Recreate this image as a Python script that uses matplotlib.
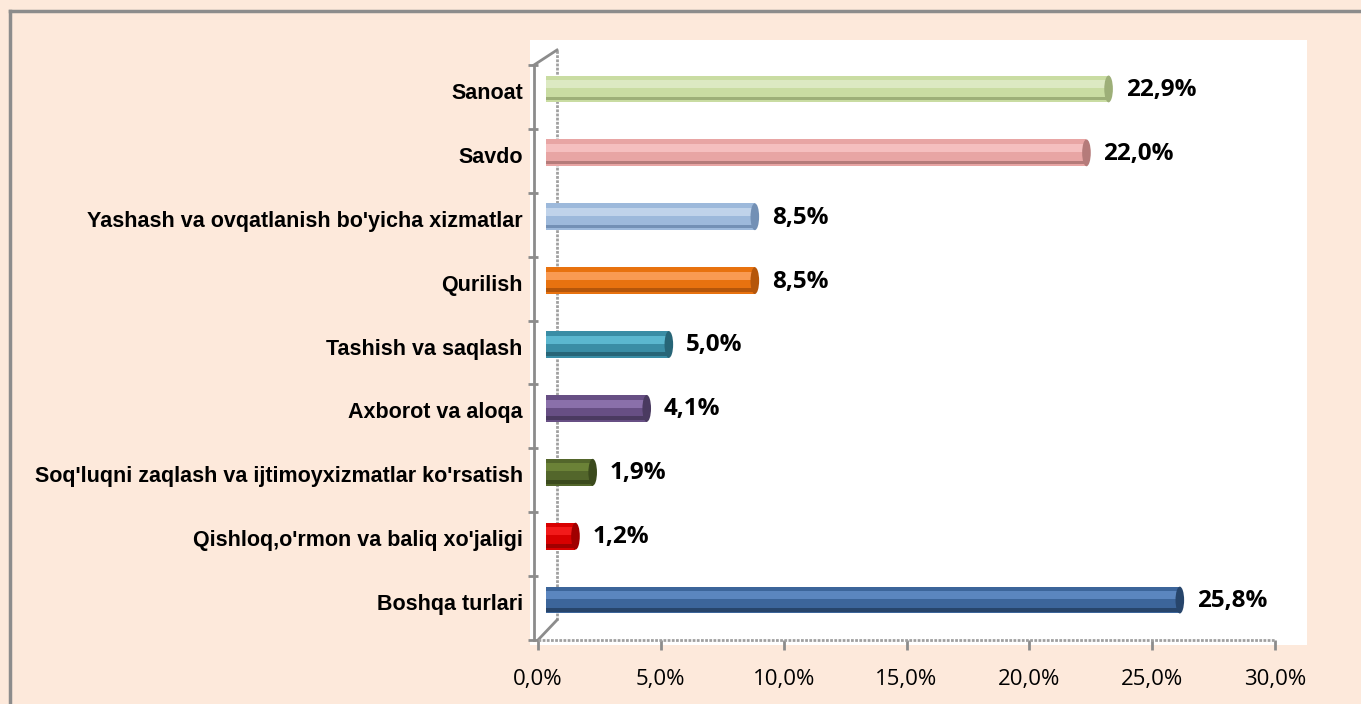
import matplotlib
matplotlib.use('Agg')
import matplotlib.pyplot as plt
import matplotlib.transforms as mtransforms
from matplotlib.patches import Rectangle, Ellipse
from matplotlib.lines import Line2D

# data, top to bottom as in the chart
categories = ['Sanoat', 'Savdo', "Yashash va ovqatlanish bo'yicha xizmatlar", 'Qurilish',
              'Tashish va saqlash', 'Axborot va aloqa',
              "Soq'luqni zaqlash va ijtimoyxizmatlar ko'rsatish",
              "Qishloq,o'rmon va baliq xo'jaligi", 'Boshqa turlari']
values = [22.9, 22.0, 8.5, 8.5, 5.0, 4.1, 1.9, 1.2, 25.8]
value_labels = ['22,9%', '22,0%', '8,5%', '8,5%', '5,0%', '4,1%', '1,9%', '1,2%', '25,8%']
bar_colors = ['#C9DCA2', '#E8A5A4', '#9DB9DB', '#E8720F', '#3A8DA5', '#674F84',
              '#53662B', '#D80000', '#3C659A']
light_colors = ['#DCE9C2', '#F5BFBF', '#C0D3EA', '#F99A52', '#5BB7CF', '#8A70AA',
                '#6B8237', '#F21A1A', '#5B86BF']
dark_colors = ['#9DAF78', '#B57B7A', '#7390B5', '#B5560A', '#276577', '#4A3A60',
               '#3B4A1D', '#A00000', '#27456B']
xticks = [0, 5, 10, 15, 20, 25, 30]
xtick_labels = ['0,0%', '5,0%', '10,0%', '15,0%', '20,0%', '25,0%', '30,0%']

W, H = 1361, 704
fig = plt.figure(figsize=(W / 100, H / 100), dpi=100)
fig.patch.set_facecolor('#FDE9DB')

def fx(px):
    return px / W

def fy(py):
    return 1 - py / H

# outer border (only left and top visible) and white plot area
fig.add_artist(Line2D([fx(10), fx(10)], [fy(11), 0], color='#8C8C8C', lw=2.5))
fig.add_artist(Line2D([fx(10), 1], [fy(11), fy(11)], color='#8C8C8C', lw=2.5))
fig.add_artist(Rectangle((fx(530), fy(645)), fx(1307) - fx(530), fy(40) - fy(645),
                         facecolor='white', edgecolor='none', zorder=0))

ax = fig.add_axes([fx(538), fy(640), fx(1275) - fx(538), fy(65) - fy(640)])
ax.set_facecolor('none')
ax.set_xlim(0, 30)
ax.set_ylim(len(categories) - 0.5, -0.5)
for s in ax.spines.values():
    s.set_visible(False)

ypos = list(range(len(categories)))
# bars drawn a bit up and to the right (3d depth of the original)
shift = ax.transData + mtransforms.ScaledTranslation(8 / 100, 8 / 100, fig.dpi_scale_trans)
bh = 0.42
base = ax.barh(ypos, values, height=bh, color=bar_colors, zorder=3)
top = ax.barh([y - bh * 0.18 for y in ypos], values, height=bh * 0.3, color=light_colors, zorder=4)
bot = ax.barh([y + bh * 0.36 for y in ypos], values, height=bh * 0.14, color=dark_colors, zorder=4)
for cont in (base, top, bot):
    for p in cont:
        p.set_transform(shift)
for y, v, c in zip(ypos, values, dark_colors):
    e = Ellipse((v, y), 0.35, bh, facecolor=c, edgecolor='none', zorder=5, transform=shift)
    ax.add_patch(e)

for y, v, lab in zip(ypos, values, value_labels):
    ax.annotate(lab, (v, y), xytext=(25, 7), textcoords='offset pixels', ha='left', va='center',
                fontsize=17.5, fontweight='bold', family='Open Sans', color='black')

# axes lines drawn like the 3d frame
gray = '#8C8C8C'
ax.plot([-4 / 737, -4 / 737], [0, 1], transform=ax.transAxes, color=gray, lw=2, clip_on=False)
wall = 19 / 737
ax.plot([wall, wall], [20 / 575, 1 + 15 / 575], transform=ax.transAxes, color='#A0A0A0',
        lw=2, linestyle=(0, (1, 0.5)), clip_on=False)
ax.plot([-4 / 737, wall], [1, 1 + 15 / 575], transform=ax.transAxes, color=gray, lw=2, clip_on=False)
ax.plot([0, wall], [0, 20 / 575], transform=ax.transAxes, color=gray, lw=2, clip_on=False)
ax.plot([0, 1], [0, 0], transform=ax.transAxes, color='#A0A0A0', lw=2,
        linestyle=(0, (1, 0.5)), clip_on=False)

ax.set_xticks(xticks)
ax.set_xticklabels(xtick_labels, family='Open Sans', fontsize=16)
ax.tick_params(axis='x', length=7, width=2, color=gray, pad=14)
ax.set_yticks([y + 0.5 for y in ypos[:-1]] + [-0.5, len(categories) - 0.5], minor=True)
ax.set_yticks(ypos)
ax.set_yticklabels(categories, family='Liberation Sans', fontweight='bold', fontsize=15.5)
ax.tick_params(axis='y', which='major', length=0, pad=11)
ax.tick_params(axis='y', which='minor', length=7, width=2, color=gray, pad=0)
for t in ax.get_yticklabels():
    t.set_transform(t.get_transform() + mtransforms.ScaledTranslation(0, 6 / 100, fig.dpi_scale_trans))

fig.savefig('out.png', dpi=100, facecolor=fig.get_facecolor())
